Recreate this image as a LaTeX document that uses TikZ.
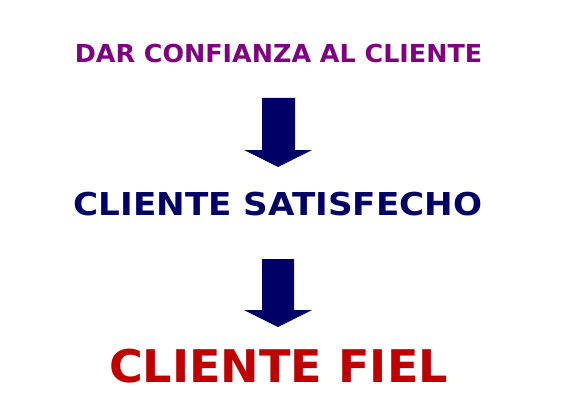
\documentclass[tikz,border=0pt]{standalone}
\usepackage{fontspec}
\setmainfont{DejaVu Sans}
\usepackage{tikz}
\usetikzlibrary{positioning}
\definecolor{titpurple}{HTML}{800080}
\definecolor{titnavy}{HTML}{000066}
\definecolor{titred}{HTML}{C00000}
\tikzset{
  lema/.style={anchor=base, inner sep=0pt, font=\bfseries},
  flecha/.style={fill=titnavy, draw=none}
}
\begin{document}
\begin{tikzpicture}[x=1pt, y=-1pt]
			\useasboundingbox[fill=white] (0,0) rectangle (562,417);
			\node[lema, xscale=1.028, text=titpurple, font=\bfseries\fontsize{24.7}{30}\selectfont] (confianza) at (278.5,63) {DAR CONFIANZA AL CLIENTE};
			\node[lema, xscale=1.085, text=titnavy, font=\bfseries\fontsize{31.5}{38}\selectfont] (satisfecho) at (278,215) {CLIENTE SATISFECHO};
			\node[lema, xscale=1.024, text=titred, font=\bfseries\fontsize{45}{54}\selectfont] (fiel) at (278.5,382) {CLIENTE FIEL};
			\fill[flecha] (262,98) -- (295,98) -- (295,150) -- (312,150) -- (278,167) -- (244,150) -- (262,150) -- cycle;
			\fill[flecha] (262,259) -- (294,259) -- (294,310) -- (312,310) -- (278,327) -- (244,310) -- (262,310) -- cycle;
\end{tikzpicture}
\end{document}
